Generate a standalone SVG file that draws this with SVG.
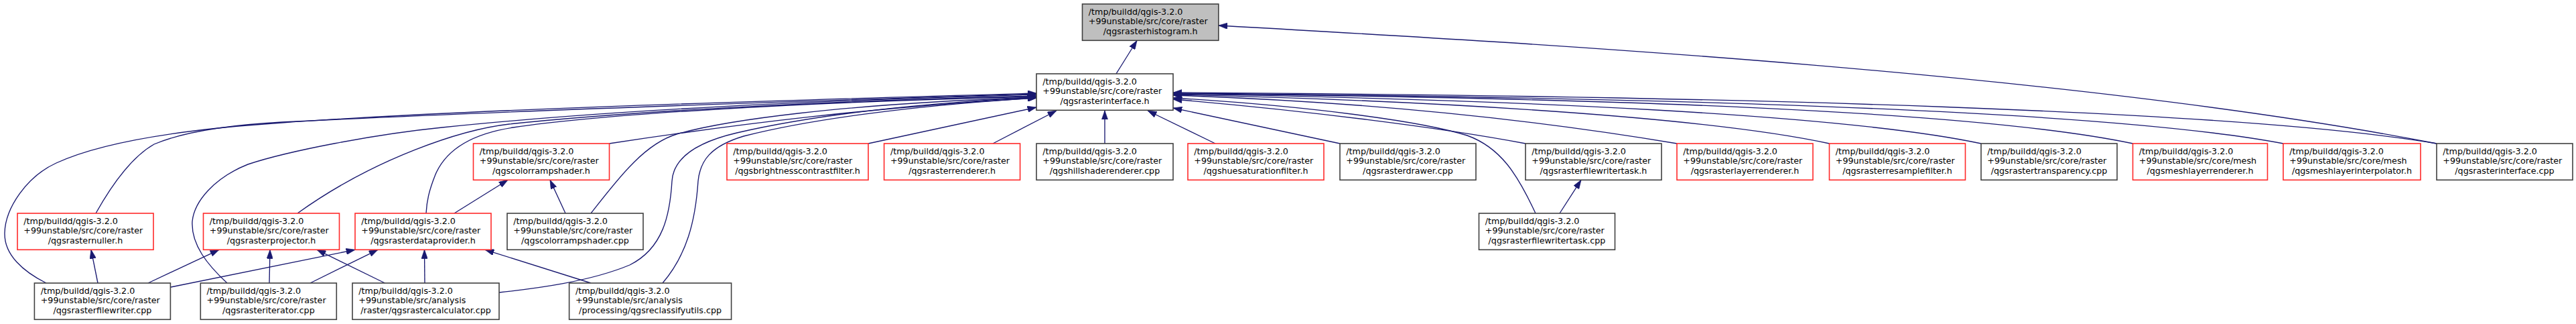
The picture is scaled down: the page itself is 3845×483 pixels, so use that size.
<svg xmlns="http://www.w3.org/2000/svg" width="3845" height="483" viewBox="0 0 3845 483">
<defs>
<style>
rect{stroke-width:1.6}
.b{fill:#fff;stroke:#404040}
.r{fill:#fff;stroke:#ff2a2a}
.g{fill:#bfbfbf;stroke:#404040}
text{font-family:"DejaVu Sans","Liberation Sans",sans-serif;font-size:12.7px;fill:#000}
.c{text-anchor:middle}
.e path{fill:none;stroke:#191970;stroke-width:1.35;marker-start:url(#ah)}
</style>
<marker id="ah" viewBox="0 0 10 7" refX="10" refY="3.5" markerWidth="13.3" markerHeight="9.3" markerUnits="userSpaceOnUse" orient="auto-start-reverse">
<path d="M0,0 L10,3.5 L0,7 z" fill="#191970" stroke="#191970" stroke-width="0.5"/>
</marker>
</defs>
<rect width="3845" height="483" fill="#fff" style="stroke:none"/>
<g id="edges" class="e">
<path d="M1697,60.5 L1666,110"/>
<path d="M1818.8,38 C2300,65 3100,110 3637,214"/>
<path d="M1547,139 C1150,150 700,163 421,183 C300,191 160,208 84,243 C40,263 8,310 7,347 C6,380 35,405 69,422"/>
<path d="M1547,140 C1150,152 700,168 421,182 C330,187 270,198 230,215 C200,232 170,270 143,318"/>
<path d="M1547,141 C1200,150 900,165 660,190 C560,200 430,225 370,245 C320,265 290,300 287,330 C285,365 310,395 339,422"/>
<path d="M1547,143 C1250,150 950,165 760,185 C690,193 560,235 444,318"/>
<path d="M1547,144 C1200,152 900,170 766,190 C700,200 665,225 650,260 C640,285 637,300 636,318"/>
<path d="M1547,146 C1300,160 1100,185 909.5,214"/>
<path d="M1547,145 C1250,155 1080,180 1010,200 C960,215 920,270 882,318"/>
<path d="M1547,145 C1350,155 1200,175 1100,198 C1040,212 1005,235 1003,270 C1000,320 990,370 940,395 C880,420 800,430 745,436"/>
<path d="M1547,146 C1350,158 1200,180 1110,203 C1060,218 1045,240 1042,270 C1038,330 1025,380 989,422"/>
<path d="M1547,160 L1296,214"/>
<path d="M1577,165 L1482,214"/>
<path d="M1649,165 L1649,214"/>
<path d="M1713,165 L1814,214"/>
<path d="M1751,161 L2000,214"/>
<path d="M1751,148 C1950,165 2150,190 2277,214"/>
<path d="M1751,146 C1950,158 2120,180 2190,202 C2240,220 2265,260 2292,318"/>
<path d="M1751,142 C2050,152 2300,180 2503,214"/>
<path d="M1751,141 C2150,150 2550,175 2730.5,214"/>
<path d="M1751,140 C2250,148 2750,170 2957,214"/>
<path d="M1751,139.5 C2400,146 2950,165 3183.5,214"/>
<path d="M1751,139 C2500,145 3150,165 3408,214"/>
<path d="M1751,138 C2600,143 3350,165 3637,214"/>
<path d="M136,372.3 L146,422"/>
<path d="M327,372.3 L221,422"/>
<path d="M403,372.3 L402,422"/>
<path d="M473,372.3 L574.5,422"/>
<path d="M530,372.3 L255,428"/>
<path d="M564,372.3 L463,422"/>
<path d="M633.5,372.3 L634,422"/>
<path d="M724,372.3 L882,422"/>
<path d="M758,268.3 L678,318"/>
<path d="M821,268.3 L844,318"/>
<path d="M2360,268.3 L2328,318"/>
</g>
<g id="n_histogram"><rect class="g" x="1615.5" y="6" width="203.3" height="54.3"/><text x="1624.8" y="21.7">/tmp/buildd/qgis-3.2.0</text><text x="1624.8" y="36.4">+99unstable/src/core/raster</text><text class="c" x="1717.2" y="51.1">/qgsrasterhistogram.h</text></g>
<g id="n_interface_h"><rect class="b" x="1547" y="110" width="204" height="54.3"/><text x="1556.3" y="125.7">/tmp/buildd/qgis-3.2.0</text><text x="1556.3" y="140.4">+99unstable/src/core/raster</text><text class="c" x="1649" y="155.1">/qgsrasterinterface.h</text></g>
<g id="n_colorrampshader_h"><rect class="r" x="706.5" y="214" width="203" height="54.3"/><text x="715.8" y="229.7">/tmp/buildd/qgis-3.2.0</text><text x="715.8" y="244.4">+99unstable/src/core/raster</text><text class="c" x="808" y="259.1">/qgscolorrampshader.h</text></g>
<g id="n_brightness"><rect class="r" x="1085" y="214" width="211" height="54.3"/><text x="1094.3" y="229.7">/tmp/buildd/qgis-3.2.0</text><text x="1094.3" y="244.4">+99unstable/src/core/raster</text><text class="c" x="1190.5" y="259.1">/qgsbrightnesscontrastfilter.h</text></g>
<g id="n_rasterrenderer"><rect class="r" x="1319.6" y="214" width="203" height="54.3"/><text x="1328.9" y="229.7">/tmp/buildd/qgis-3.2.0</text><text x="1328.9" y="244.4">+99unstable/src/core/raster</text><text class="c" x="1421.1" y="259.1">/qgsrasterrenderer.h</text></g>
<g id="n_hillshade"><rect class="b" x="1547" y="214" width="204" height="54.3"/><text x="1556.3" y="229.7">/tmp/buildd/qgis-3.2.0</text><text x="1556.3" y="244.4">+99unstable/src/core/raster</text><text class="c" x="1649" y="259.1">/qgshillshaderenderer.cpp</text></g>
<g id="n_huesaturation"><rect class="r" x="1773" y="214" width="203" height="54.3"/><text x="1782.3" y="229.7">/tmp/buildd/qgis-3.2.0</text><text x="1782.3" y="244.4">+99unstable/src/core/raster</text><text class="c" x="1874.5" y="259.1">/qgshuesaturationfilter.h</text></g>
<g id="n_drawer"><rect class="b" x="2000" y="214" width="203" height="54.3"/><text x="2009.3" y="229.7">/tmp/buildd/qgis-3.2.0</text><text x="2009.3" y="244.4">+99unstable/src/core/raster</text><text class="c" x="2101.5" y="259.1">/qgsrasterdrawer.cpp</text></g>
<g id="n_filewritertask_h"><rect class="b" x="2277" y="214" width="203" height="54.3"/><text x="2286.3" y="229.7">/tmp/buildd/qgis-3.2.0</text><text x="2286.3" y="244.4">+99unstable/src/core/raster</text><text class="c" x="2378.5" y="259.1">/qgsrasterfilewritertask.h</text></g>
<g id="n_layerrenderer"><rect class="r" x="2503" y="214" width="203" height="54.3"/><text x="2512.3" y="229.7">/tmp/buildd/qgis-3.2.0</text><text x="2512.3" y="244.4">+99unstable/src/core/raster</text><text class="c" x="2604.5" y="259.1">/qgsrasterlayerrenderer.h</text></g>
<g id="n_resample"><rect class="r" x="2730.5" y="214" width="203" height="54.3"/><text x="2739.8" y="229.7">/tmp/buildd/qgis-3.2.0</text><text x="2739.8" y="244.4">+99unstable/src/core/raster</text><text class="c" x="2832" y="259.1">/qgsrasterresamplefilter.h</text></g>
<g id="n_transparency"><rect class="b" x="2957" y="214" width="203" height="54.3"/><text x="2966.3" y="229.7">/tmp/buildd/qgis-3.2.0</text><text x="2966.3" y="244.4">+99unstable/src/core/raster</text><text class="c" x="3058.5" y="259.1">/qgsrastertransparency.cpp</text></g>
<g id="n_meshrenderer"><rect class="r" x="3183.5" y="214" width="201" height="54.3"/><text x="3192.8" y="229.7">/tmp/buildd/qgis-3.2.0</text><text x="3192.8" y="244.4">+99unstable/src/core/mesh</text><text class="c" x="3284" y="259.1">/qgsmeshlayerrenderer.h</text></g>
<g id="n_meshinterpolator"><rect class="r" x="3408" y="214" width="205" height="54.3"/><text x="3417.3" y="229.7">/tmp/buildd/qgis-3.2.0</text><text x="3417.3" y="244.4">+99unstable/src/core/mesh</text><text class="c" x="3510.5" y="259.1">/qgsmeshlayerinterpolator.h</text></g>
<g id="n_interface_cpp"><rect class="b" x="3637" y="214" width="203" height="54.3"/><text x="3646.3" y="229.7">/tmp/buildd/qgis-3.2.0</text><text x="3646.3" y="244.4">+99unstable/src/core/raster</text><text class="c" x="3738.5" y="259.1">/qgsrasterinterface.cpp</text></g>
<g id="n_nuller"><rect class="r" x="26" y="318" width="203" height="54.3"/><text x="35.3" y="333.7">/tmp/buildd/qgis-3.2.0</text><text x="35.3" y="348.4">+99unstable/src/core/raster</text><text class="c" x="127.5" y="363.1">/qgsrasternuller.h</text></g>
<g id="n_projector"><rect class="r" x="303.5" y="318" width="203" height="54.3"/><text x="312.8" y="333.7">/tmp/buildd/qgis-3.2.0</text><text x="312.8" y="348.4">+99unstable/src/core/raster</text><text class="c" x="405" y="363.1">/qgsrasterprojector.h</text></g>
<g id="n_dataprovider"><rect class="r" x="530" y="318" width="203" height="54.3"/><text x="539.3" y="333.7">/tmp/buildd/qgis-3.2.0</text><text x="539.3" y="348.4">+99unstable/src/core/raster</text><text class="c" x="631.5" y="363.1">/qgsrasterdataprovider.h</text></g>
<g id="n_colorrampshader_cpp"><rect class="b" x="757" y="318" width="203" height="54.3"/><text x="766.3" y="333.7">/tmp/buildd/qgis-3.2.0</text><text x="766.3" y="348.4">+99unstable/src/core/raster</text><text class="c" x="858.5" y="363.1">/qgscolorrampshader.cpp</text></g>
<g id="n_filewritertask_cpp"><rect class="b" x="2207.5" y="318" width="203" height="54.3"/><text x="2216.8" y="333.7">/tmp/buildd/qgis-3.2.0</text><text x="2216.8" y="348.4">+99unstable/src/core/raster</text><text class="c" x="2309" y="363.1">/qgsrasterfilewritertask.cpp</text></g>
<g id="n_filewriter_cpp"><rect class="b" x="51.4" y="422" width="203" height="54.3"/><text x="60.7" y="437.7">/tmp/buildd/qgis-3.2.0</text><text x="60.7" y="452.4">+99unstable/src/core/raster</text><text class="c" x="152.9" y="467.1">/qgsrasterfilewriter.cpp</text></g>
<g id="n_iterator_cpp"><rect class="b" x="299.3" y="422" width="203" height="54.3"/><text x="308.6" y="437.7">/tmp/buildd/qgis-3.2.0</text><text x="308.6" y="452.4">+99unstable/src/core/raster</text><text class="c" x="400.8" y="467.1">/qgsrasteriterator.cpp</text></g>
<g id="n_rastercalculator"><rect class="b" x="526" y="422" width="219" height="54.3"/><text x="535.3" y="437.7">/tmp/buildd/qgis-3.2.0</text><text x="535.3" y="452.4">+99unstable/src/analysis</text><text class="c" x="635.5" y="467.1">/raster/qgsrastercalculator.cpp</text></g>
<g id="n_reclassify"><rect class="b" x="849.6" y="422" width="242" height="54.3"/><text x="858.9" y="437.7">/tmp/buildd/qgis-3.2.0</text><text x="858.9" y="452.4">+99unstable/src/analysis</text><text class="c" x="970.6" y="467.1">/processing/qgsreclassifyutils.cpp</text></g>
</svg>
